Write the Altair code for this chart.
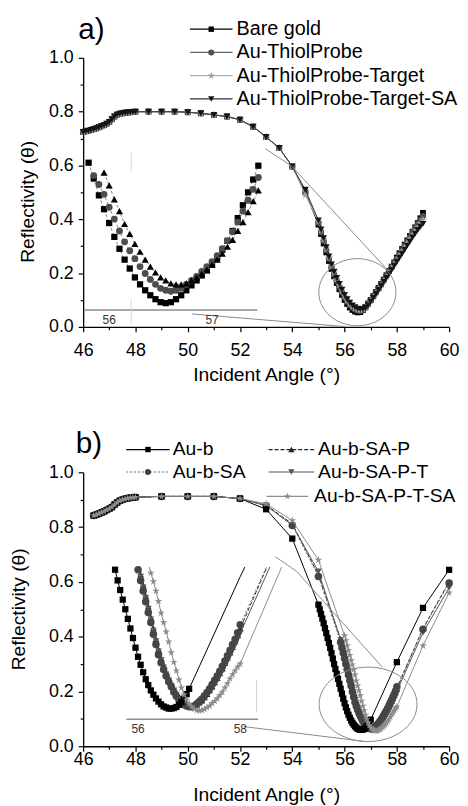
import altair as alt
import pandas as pd

FONT = "Liberation Sans"

# ======================= Panel a data =======================
A_TOP_ANGLE = [46.0, 46.1, 46.2, 46.3, 46.4, 46.5, 46.6, 46.7, 46.8, 46.9,
               47.0, 47.1, 47.2, 47.3, 47.4, 47.5, 47.6, 47.7, 47.8, 47.9,
               48.0, 48.5, 49.0, 49.5, 50.0, 50.5, 51.0, 51.5, 52.0, 52.5,
               53.0, 53.5, 54.0]
A_TOP_REFL = [0.724, 0.727, 0.729, 0.732, 0.735, 0.738, 0.742, 0.746, 0.750, 0.755,
              0.762, 0.772, 0.782, 0.789, 0.792, 0.794, 0.796, 0.797, 0.798, 0.799,
              0.800, 0.800, 0.800, 0.800, 0.798, 0.794, 0.788, 0.782, 0.770, 0.744,
              0.706, 0.665, 0.596]
A_TAIL_ANGLE = [54.5,
                55.0, 55.1, 55.2, 55.3, 55.4, 55.5, 55.6, 55.7, 55.8, 55.9,
                56.0, 56.1, 56.2, 56.3, 56.4, 56.5, 56.6, 56.7, 56.8, 56.9,
                57.0, 57.1, 57.2, 57.3, 57.4, 57.5, 57.6, 57.7, 57.8, 57.9,
                58.0, 58.1, 58.2, 58.3, 58.4, 58.5, 58.6, 58.7, 58.8, 58.9,
                59.0]
A_BARE_GOLD = [0.500,
               0.380, 0.345, 0.310, 0.277, 0.245, 0.215, 0.188, 0.163, 0.140, 0.119,
               0.100, 0.085, 0.072, 0.063, 0.057, 0.054, 0.055, 0.062, 0.074, 0.087,
               0.100, 0.115, 0.130, 0.145, 0.160, 0.176, 0.192, 0.208, 0.224, 0.240,
               0.258, 0.274, 0.290, 0.306, 0.322, 0.338, 0.354, 0.370, 0.386, 0.404,
               0.424]
A_THIOL_PROBE = [0.500,
                 0.388, 0.353, 0.320, 0.286, 0.253, 0.223, 0.196, 0.172, 0.150, 0.129,
                 0.110, 0.094, 0.081, 0.072, 0.065, 0.061, 0.060, 0.064, 0.072, 0.085,
                 0.099, 0.113, 0.128, 0.143, 0.158, 0.174, 0.190, 0.206, 0.222, 0.238,
                 0.254, 0.270, 0.286, 0.302, 0.318, 0.334, 0.350, 0.366, 0.382, 0.398,
                 0.412]
A_PROBE_TARGET = [0.490,
                  0.392, 0.358, 0.325, 0.291, 0.258, 0.228, 0.201, 0.177, 0.155, 0.134,
                  0.115, 0.099, 0.086, 0.076, 0.069, 0.064, 0.063, 0.065, 0.071, 0.082,
                  0.096, 0.110, 0.125, 0.140, 0.155, 0.170, 0.186, 0.202, 0.218, 0.234,
                  0.249, 0.265, 0.281, 0.297, 0.313, 0.328, 0.343, 0.357, 0.371, 0.385,
                  0.398]
A_PROBE_TARGET_SA = [0.510,
                     0.396, 0.362, 0.330, 0.296, 0.262, 0.232, 0.205, 0.182, 0.160, 0.138,
                     0.119, 0.103, 0.090, 0.080, 0.073, 0.068, 0.066, 0.066, 0.070, 0.080,
                     0.094, 0.108, 0.122, 0.137, 0.152, 0.167, 0.182, 0.197, 0.212, 0.227,
                     0.242, 0.257, 0.272, 0.287, 0.302, 0.317, 0.332, 0.346, 0.360, 0.372,
                     0.383]

# inset a (magnified minimum)
IA_SQ_ANGLE = [55.80, 55.85, 55.90, 55.95,
               56.00, 56.05, 56.10, 56.15, 56.20, 56.25, 56.30, 56.35, 56.40, 56.45,
               56.50, 56.55, 56.60, 56.65, 56.70, 56.75, 56.80, 56.85, 56.90, 56.95,
               57.00, 57.05, 57.10, 57.15, 57.20, 57.25, 57.30, 57.35, 57.40, 57.45]
IA_SQ = [0.199, 0.183, 0.166, 0.152,
         0.138, 0.124, 0.112, 0.101, 0.092, 0.083, 0.076, 0.070, 0.065, 0.061,
         0.058, 0.057, 0.058, 0.061, 0.065, 0.070, 0.075, 0.080, 0.085, 0.090,
         0.096, 0.103, 0.111, 0.120, 0.130, 0.143, 0.156, 0.169, 0.182, 0.196]
IA_CI_ANGLE = [55.85, 55.90, 55.95,
               56.00, 56.05, 56.10, 56.15, 56.20, 56.25, 56.30, 56.35, 56.40, 56.45,
               56.50, 56.55, 56.60, 56.65, 56.70, 56.75, 56.80, 56.85, 56.90, 56.95,
               57.00, 57.05, 57.10, 57.15, 57.20, 57.25, 57.30, 57.35, 57.40, 57.45]
IA_CI = [0.186, 0.177, 0.167,
         0.154, 0.142, 0.130, 0.119, 0.110, 0.102, 0.094, 0.087, 0.081, 0.076,
         0.072, 0.070, 0.069, 0.070, 0.072, 0.076, 0.080, 0.084, 0.089, 0.094,
         0.099, 0.105, 0.112, 0.120, 0.129, 0.139, 0.150, 0.161, 0.172, 0.184]
IA_TR_ANGLE = [55.95,
               56.00, 56.05, 56.10, 56.15, 56.20, 56.25, 56.30, 56.35, 56.40, 56.45,
               56.50, 56.55, 56.60, 56.65, 56.70, 56.75, 56.80, 56.85, 56.90, 56.95,
               57.00, 57.05, 57.10, 57.15, 57.20, 57.25, 57.30, 57.35, 57.40, 57.45]
IA_TR = [0.189,
         0.176, 0.162, 0.150, 0.137, 0.127, 0.117, 0.109, 0.101, 0.094, 0.088,
         0.083, 0.080, 0.077, 0.076, 0.076, 0.077, 0.080, 0.083, 0.087, 0.091,
         0.096, 0.101, 0.107, 0.114, 0.121, 0.130, 0.139, 0.149, 0.160, 0.171]
IA_AXIS_X = [55.76, 57.44]
IA_AXIS_Y = 0.05
IA_TICKS = [56, 57]
IA_FAINT_X = 56.215
IA_FAINT_Y = [[0.036, 0.061], [0.190, 0.209]]

# annotations a (main-plot coordinates)
A_ELLIPSE = [56.49, 0.129]
A_LINK_TOP_X = [52.97, 53.96, 57.63]
A_LINK_TOP_Y = [0.662, 0.599, 0.213]
A_LINK_BOT_X = [50.17, 56.04]
A_LINK_BOT_Y = [0.048, 0.001]

# ======================= Panel b data =======================
B_TOP_ANGLE = [46.4, 46.5, 46.6, 46.7, 46.8, 46.9, 47.0, 47.1, 47.2, 47.3,
               47.4, 47.5, 47.6, 47.7, 47.8, 47.9, 48.0, 49.0, 50.0, 51.0, 52.0]
B_TOP_REFL = [0.842, 0.845, 0.849, 0.853, 0.857, 0.862, 0.867, 0.873, 0.882, 0.890,
              0.896, 0.900, 0.903, 0.905, 0.907, 0.908, 0.909, 0.912, 0.912, 0.912, 0.904]

B_PRE_ANGLE_SQ = [53.0, 54.0]
B_PRE_ANGLE = [53.0, 54.0, 55.0]
B_AUB_PRE = [0.865, 0.758]
B_AUBSA_PRE = [0.878, 0.806, 0.620]
B_AUBSAP_PRE = [0.880, 0.812, 0.625]
B_AUBSAPT_PRE = [0.878, 0.808, 0.638]
B_AUBSAPTSA_PRE = [0.885, 0.824, 0.680]

B_SQ_ANGLE = [55.00, 55.05, 55.10, 55.15, 55.20, 55.25, 55.30, 55.35, 55.40, 55.45,
              55.50, 55.55, 55.60, 55.65, 55.70, 55.75, 55.80, 55.85, 55.90, 55.95,
              56.00, 56.05, 56.10, 56.15, 56.20, 56.25, 56.30, 56.35, 56.40, 56.45,
              56.50, 56.55, 56.60, 56.65, 56.70, 56.75, 56.80, 56.85, 56.90, 56.95,
              57.00]
B_AUB_DENSE = [0.517, 0.500, 0.483, 0.466, 0.449, 0.431, 0.413, 0.395, 0.377, 0.359,
               0.340, 0.320, 0.300, 0.282, 0.264, 0.246, 0.228, 0.210, 0.192, 0.174,
               0.157, 0.142, 0.128, 0.115, 0.104, 0.094, 0.086, 0.079, 0.073, 0.068,
               0.064, 0.062, 0.060, 0.060, 0.061, 0.063, 0.067, 0.072, 0.078, 0.087,
               0.097]
B_MID_ANGLE = [55.85, 55.90, 55.95,
               56.00, 56.05, 56.10, 56.15, 56.20, 56.25, 56.30, 56.35, 56.40, 56.45,
               56.50, 56.55, 56.60, 56.65, 56.70, 56.75, 56.80, 56.85, 56.90, 56.95,
               57.00, 57.05, 57.10, 57.15, 57.20, 57.25, 57.30, 57.35, 57.40, 57.45,
               57.50, 57.55, 57.60, 57.65, 57.70, 57.75, 57.80, 57.85, 57.90, 57.95,
               58.00]
B_AUBSA_DENSE = [0.380, 0.360, 0.340,
                 0.320, 0.300, 0.280, 0.260, 0.240, 0.221, 0.199, 0.180, 0.161, 0.146,
                 0.133, 0.121, 0.110, 0.101, 0.091, 0.083, 0.077, 0.071, 0.067, 0.065,
                 0.0635, 0.0635, 0.065, 0.069, 0.073, 0.078, 0.084, 0.090, 0.097, 0.105,
                 0.113, 0.121, 0.130, 0.139, 0.149, 0.159, 0.169, 0.180, 0.190, 0.202,
                 0.217]
B_AUBSAP_DENSE = [0.392, 0.372, 0.352,
                  0.331, 0.311, 0.291, 0.271, 0.251, 0.231, 0.210, 0.190, 0.171, 0.155,
                  0.141, 0.128, 0.116, 0.106, 0.096, 0.087, 0.080, 0.074, 0.069, 0.066,
                  0.064, 0.063, 0.064, 0.067, 0.071, 0.075, 0.081, 0.087, 0.094, 0.101,
                  0.109, 0.117, 0.126, 0.135, 0.145, 0.155, 0.165, 0.175, 0.186, 0.197,
                  0.210]
B_AUBSAPT_DENSE = [0.388, 0.368, 0.348,
                   0.327, 0.307, 0.287, 0.267, 0.247, 0.227, 0.206, 0.186, 0.167, 0.151,
                   0.137, 0.124, 0.113, 0.103, 0.094, 0.086, 0.079, 0.073, 0.068, 0.065,
                   0.063, 0.063, 0.064, 0.067, 0.070, 0.075, 0.080, 0.086, 0.092, 0.099,
                   0.106, 0.114, 0.122, 0.131, 0.140, 0.149, 0.159, 0.169, 0.179, 0.190,
                   0.201]
B_STAR_ANGLE = [56.00, 56.05, 56.10, 56.15, 56.20, 56.25, 56.30, 56.35, 56.40, 56.45,
                56.50, 56.55, 56.60, 56.65, 56.70, 56.75, 56.80, 56.85, 56.90, 56.95,
                57.00, 57.05, 57.10, 57.15, 57.20, 57.25, 57.30, 57.35, 57.40, 57.45,
                57.50, 57.55, 57.60, 57.65, 57.70, 57.75, 57.80, 57.85, 57.90, 57.95,
                58.00]
B_AUBSAPTSA_DENSE = [0.404, 0.386, 0.368, 0.350, 0.332, 0.314, 0.298, 0.280, 0.261, 0.239,
                     0.221, 0.204, 0.185, 0.165, 0.147, 0.131, 0.114, 0.099, 0.086, 0.076,
                     0.069, 0.064, 0.059, 0.057, 0.056, 0.057, 0.059, 0.062, 0.065, 0.070,
                     0.074, 0.079, 0.085, 0.091, 0.099, 0.107, 0.116, 0.124, 0.131, 0.138,
                     0.144]
B_POST_ANGLE_SQ = [58.0, 59.0, 60.0]
B_POST_ANGLE = [59.0, 60.0]
B_AUB_POST = [0.307, 0.505, 0.644]
B_AUBSA_POST = [0.427, 0.596]
B_AUBSAP_POST = [0.430, 0.600]
B_AUBSAPT_POST = [0.415, 0.578]
B_AUBSAPTSA_POST = [0.367, 0.560]

IB_TOP = 0.325
IB_AXIS_X = [55.77, 58.35]
IB_AXIS_Y = 0.04
IB_TICKS = [56, 58]
IB_FAINT_X = 58.32
IB_FAINT_Y = [0.054, 0.113]

B_ELLIPSE = [56.90, 0.153]
B_LINK_TOP_X = [53.35, 54.17, 57.44]
B_LINK_TOP_Y = [0.692, 0.638, 0.289]
B_LINK_BOT_X = [52.13, 56.73]
B_LINK_BOT_Y = [0.072, 0.018]

X_TICKS = [46, 47, 48, 49, 50, 51, 52, 53, 54, 55, 56, 57, 58, 59, 60]
Y_TICKS = [0.0, 0.1, 0.2, 0.3, 0.4, 0.5, 0.6, 0.7, 0.8, 0.9, 1.0]

# ======================= helpers =======================
STAR = ("M0,-1L0.224,-0.309L0.951,-0.309L0.363,0.118L0.588,0.809L0,0.382"
        "L-0.588,0.809L-0.363,0.118L-0.951,-0.309L-0.224,-0.309Z")
ELLIPSE_A = "M-1,0A1,0.87,0,1,1,1,0A1,0.87,0,1,1,-1,0Z"
ELLIPSE_B = "M-1,0A1,0.76,0,1,1,1,0A1,0.76,0,1,1,-1,0Z"


def xy(xs, ys):
    assert len(xs) == len(ys), (len(xs), len(ys))
    return pd.DataFrame({"x": list(xs), "y": list(ys)})


def line_layer(df, X, Y, color, width=1.0, dash=None, detail=False):
    kw = dict(color=color, strokeWidth=width)
    if dash:
        kw["strokeDash"] = dash
    enc = dict(x=X, y=Y)
    if detail:
        enc["detail"] = "seg:N"
        enc["order"] = "i:Q"
    return alt.Chart(df).mark_line(**kw).encode(**enc)


def point_layer(df, X, Y, shape, color, size):
    return alt.Chart(df).mark_point(shape=shape, size=size, filled=True,
                                    color=color, opacity=1).encode(x=X, y=Y)


def polylines(lines):
    rows = []
    for s, (xs, ys) in enumerate(lines):
        for i, (a, b) in enumerate(zip(xs, ys)):
            rows.append({"x": a, "y": b, "seg": s, "i": i})
    return pd.DataFrame(rows)


def clip_top(xs, ys, top):
    pieces, cur = [], []
    for i in range(len(xs)):
        x, y = xs[i], ys[i]
        if y <= top:
            if not cur and i > 0 and ys[i - 1] > top:
                x0, y0 = xs[i - 1], ys[i - 1]
                t = (top - y0) / (y - y0)
                cur.append((x0 + t * (x - x0), top))
            cur.append((x, y))
        elif cur:
            x0, y0 = xs[i - 1], ys[i - 1]
            t = (top - y0) / (y - y0)
            cur.append((x0 + t * (x - x0), top))
            pieces.append(cur)
            cur = []
    if cur:
        pieces.append(cur)
    return [([p[0] for p in pc], [p[1] for p in pc]) for pc in pieces]


def legend_layers(items, fs):
    out = []
    for it in items:
        d = pd.DataFrame({"t": [it["label"]]})
        kw = dict(color=it["line"], strokeWidth=1.2)
        if it.get("dash"):
            kw["strokeDash"] = it["dash"]
        out.append(alt.Chart(d).mark_rule(**kw).encode(
            x=alt.value(it["x0"]), x2=alt.value(it["x1"]), y=alt.value(it["y"])))
        out.append(alt.Chart(d).mark_point(shape=it["shape"], size=it["size"], filled=True,
                                           color=it["color"], opacity=1).encode(
            x=alt.value(it["xm"]), y=alt.value(it["y"])))
        out.append(alt.Chart(d).mark_text(align="left", baseline="middle", fontSize=fs,
                                          font=FONT, color="black").encode(
            x=alt.value(it["xt"]), y=alt.value(it["y"]), text="t:N"))
    return out


def panel_label(txt, x, y):
    d = pd.DataFrame({"t": [txt]})
    return alt.Chart(d).mark_text(align="left", baseline="alphabetic", fontSize=30,
                                  font=FONT, color="black").encode(
        x=alt.value(x), y=alt.value(y), text="t:N")


def x_axis(label_pad):
    return alt.Axis(title="Incident Angle (°)", values=X_TICKS,
                    labelExpr="datum.value % 2 == 0 ? datum.label : ''",
                    tickSize={"condition": {"test": "datum.value % 2 == 0", "value": 5}, "value": 3},
                    labelPadding=label_pad, labelFlush=False, grid=False,
                    titleX=185, titleY=39.5, titleBaseline="top", titleAlign="center")


def y_axis(title_x, title_y):
    return alt.Axis(title="Reflectivity (θ)", values=Y_TICKS, format=".1f",
                    labelExpr="round(datum.value*10) % 2 == 0 ? datum.label : ''",
                    tickSize={"condition": {"test": "round(datum.value*10) % 2 == 0", "value": 5}, "value": 3},
                    labelPadding=5, labelFlush=False, grid=False,
                    titleX=title_x, titleY=title_y, titleBaseline="bottom",
                    titleAlign="center", titleAngle=270)


W = 370
HA, HB = 272, 277

# ======================= Panel a =======================
XA = alt.X("x:Q", scale=alt.Scale(domain=[46, 60], nice=False, zero=False), axis=x_axis(10))
YA = alt.Y("y:Q", scale=alt.Scale(domain=[0, 1], nice=False, zero=False), axis=y_axis(-46.7, 145))

a_series = [
    (A_BARE_GOLD, dict(shape="square", color="#000000", line="#000000", size=34)),
    (A_THIOL_PROBE, dict(shape="circle", color="#505050", line="#666666", size=40)),
    (A_PROBE_TARGET, dict(shape=STAR, color="#a0a0a0", line="#b0b0b0", size=70)),
    (A_PROBE_TARGET_SA, dict(shape="triangle-down", color="#151515", line="#333333", size=48)),
]
main_a = []
for vals, st in a_series:
    df = xy(A_TOP_ANGLE + A_TAIL_ANGLE, A_TOP_REFL + vals)
    main_a.append(line_layer(df, XA, YA, st["line"], 1.0))
    main_a.append(point_layer(df, XA, YA, st["shape"], st["color"], st["size"]))

main_a.append(alt.Chart(xy([A_ELLIPSE[0]], [A_ELLIPSE[1]])).mark_point(
    shape=ELLIPSE_A, size=6084, filled=False, color="#8a8a8a", strokeWidth=1, opacity=1
).encode(x=XA, y=YA))
main_a.append(line_layer(polylines([(A_LINK_TOP_X, A_LINK_TOP_Y), (A_LINK_BOT_X, A_LINK_BOT_Y)]),
                         XA, YA, "#8a8a8a", 1.0, detail=True))

leg_a = [
    dict(label="Bare gold", shape="square", color="#000000", line="#000000", size=30,
         x0=108, x1=151, xm=129.5, xt=155, y=-29),
    dict(label="Au-ThiolProbe", shape="circle", color="#505050", line="#666666", size=38,
         x0=108, x1=151, xm=129.5, xt=155, y=-5.5),
    dict(label="Au-ThiolProbe-Target", shape=STAR, color="#a0a0a0", line="#b0b0b0", size=60,
         x0=108, x1=151, xm=129.5, xt=155, y=18),
    dict(label="Au-ThiolProbe-Target-SA", shape="triangle-down", color="#151515", line="#333333",
         size=42, x0=108, x1=151, xm=129.5, xt=155, y=41.5),
]
main_a += legend_layers(leg_a, 20)
main_a.append(panel_label("a)", -5, -19))

XIA = alt.X("x:Q", scale=alt.Scale(domain=[56, 57], range=[26.3, 130.3], nice=False, zero=False), axis=None)
YIA = alt.Y("y:Q", scale=alt.Scale(domain=[0.05, 0.20], range=[255, 105], nice=False, zero=False), axis=None)

inset_a = []
inset_a.append(alt.Chart(pd.DataFrame({"x": [IA_AXIS_X[0]], "x2": [IA_AXIS_X[1]], "y": [IA_AXIS_Y]}))
               .mark_rule(color="#8c8c8c", strokeWidth=1.5).encode(x=XIA, x2="x2:Q", y=YIA))
inset_a.append(alt.Chart(pd.DataFrame({"x": [IA_FAINT_X, IA_FAINT_X],
                                       "y": [IA_FAINT_Y[0][0], IA_FAINT_Y[1][0]],
                                       "y2": [IA_FAINT_Y[0][1], IA_FAINT_Y[1][1]]}))
               .mark_rule(color="#d8d8d8", strokeWidth=1).encode(x=XIA, y=YIA, y2="y2:Q"))
inset_a.append(alt.Chart(pd.DataFrame({"x": IA_TICKS, "t": [str(v) for v in IA_TICKS]}))
               .mark_text(fontSize=12, font=FONT, color="#333333", baseline="middle")
               .encode(x=XIA, y=alt.value(265), text="t:N"))
for xs, ys, shape, col, size in [
    (IA_SQ_ANGLE, IA_SQ, "square", "#000000", 40),
    (IA_CI_ANGLE, IA_CI, "circle", "#4d4d4d", 48),
    (IA_TR_ANGLE, IA_TR, "triangle-up", "#000000", 52),
]:
    df = xy(xs, ys)
    inset_a.append(line_layer(df, XIA, YIA, "#666666", 0.8, dash=[3, 2]))
    inset_a.append(point_layer(df, XIA, YIA, shape, col, size))

panel_a = alt.layer(alt.layer(*main_a), alt.layer(*inset_a)).resolve_scale(
    x="independent", y="independent").properties(width=W, height=HA)

# ======================= Panel b =======================
XB = alt.X("x:Q", scale=alt.Scale(domain=[46, 60], nice=False, zero=False), axis=x_axis(-1))
YB = alt.Y("y:Q", scale=alt.Scale(domain=[0, 1], nice=False, zero=False), axis=y_axis(-55, 138))

b_series = [
    dict(pre_x=B_PRE_ANGLE, pre=B_AUBSAP_PRE, dx=B_MID_ANGLE, dense=B_AUBSAP_DENSE,
         post_x=B_POST_ANGLE, post=B_AUBSAP_POST,
         shape="triangle-up", color="#222222", line="#222222", dash=[4, 2], size=46),
    dict(pre_x=B_PRE_ANGLE, pre=B_AUBSAPT_PRE, dx=B_MID_ANGLE, dense=B_AUBSAPT_DENSE,
         post_x=B_POST_ANGLE, post=B_AUBSAPT_POST,
         shape="triangle-down", color="#555555", line="#555555", dash=None, size=46),
    dict(pre_x=B_PRE_ANGLE, pre=B_AUBSA_PRE, dx=B_MID_ANGLE, dense=B_AUBSA_DENSE,
         post_x=B_POST_ANGLE, post=B_AUBSA_POST,
         shape="circle", color="#454545", line="#6a6a6a", dash=[2, 2], size=58),
    dict(pre_x=B_PRE_ANGLE_SQ, pre=B_AUB_PRE, dx=B_SQ_ANGLE, dense=B_AUB_DENSE,
         post_x=B_POST_ANGLE_SQ, post=B_AUB_POST,
         shape="square", color="#000000", line="#000000", dash=None, size=40),
    dict(pre_x=B_PRE_ANGLE, pre=B_AUBSAPTSA_PRE, dx=B_STAR_ANGLE, dense=B_AUBSAPTSA_DENSE,
         post_x=B_POST_ANGLE, post=B_AUBSAPTSA_POST,
         shape=STAR, color="#8c8c8c", line="#8c8c8c", dash=None, size=64),
]

XIB = alt.X("x:Q", scale=alt.Scale(domain=[56, 58], range=[55.5, 158.8], nice=False, zero=False), axis=None)
YIB = alt.Y("y:Q", scale=alt.Scale(domain=[0.04, IB_TOP], range=[249.7, 95.8], nice=False, zero=False), axis=None)

main_b, inset_b = [], []
inset_b.append(alt.Chart(pd.DataFrame({"x": [IB_AXIS_X[0]], "x2": [IB_AXIS_X[1]], "y": [IB_AXIS_Y]}))
               .mark_rule(color="#8c8c8c", strokeWidth=1.5).encode(x=XIB, x2="x2:Q", y=YIB))
inset_b.append(alt.Chart(pd.DataFrame({"x": [IB_FAINT_X], "y": [IB_FAINT_Y[0]], "y2": [IB_FAINT_Y[1]]}))
               .mark_rule(color="#d0d0d0", strokeWidth=1).encode(x=XIB, y=YIB, y2="y2:Q"))
inset_b.append(alt.Chart(pd.DataFrame({"x": IB_TICKS, "t": [str(v) for v in IB_TICKS]}))
               .mark_text(fontSize=12, font=FONT, color="#333333", baseline="middle")
               .encode(x=XIB, y=alt.value(260), text="t:N"))

for s in b_series:
    xs = B_TOP_ANGLE + s["pre_x"] + s["dx"] + s["post_x"]
    ys = B_TOP_REFL + s["pre"] + s["dense"] + s["post"]
    df = xy(xs, ys)
    main_b.append(line_layer(df, XB, YB, s["line"], 1.0, dash=s["dash"]))
    main_b.append(point_layer(df, XB, YB, s["shape"], s["color"], s["size"]))
    # inset: same measurements, magnified
    inset_b.append(line_layer(polylines(clip_top(xs, ys, IB_TOP)), XIB, YIB, s["line"], 1.0,
                              dash=s["dash"], detail=True))
    dd = xy(s["dx"], s["dense"])
    dd = dd[dd["y"] <= IB_TOP]
    inset_b.append(point_layer(dd, XIB, YIB, s["shape"], s["color"], s["size"]))

main_b.append(alt.Chart(xy([B_ELLIPSE[0]], [B_ELLIPSE[1]])).mark_point(
    shape=ELLIPSE_B, size=9801, filled=False, color="#8a8a8a", strokeWidth=1, opacity=1
).encode(x=XB, y=YB))
main_b.append(line_layer(polylines([(B_LINK_TOP_X, B_LINK_TOP_Y), (B_LINK_BOT_X, B_LINK_BOT_Y)]),
                         XB, YB, "#8a8a8a", 1.0, detail=True))

leg_b = [
    dict(label="Au-b", shape="square", color="#000000", line="#000000", size=30,
         x0=43.5, x1=87.5, xm=65.5, xt=90.5, y=-23),
    dict(label="Au-b-SA", shape="circle", color="#454545", line="#6a6a6a", dash=[2, 2], size=38,
         x0=43.5, x1=87.5, xm=65.5, xt=90.5, y=-0.3),
    dict(label="Au-b-SA-P", shape="triangle-up", color="#222222", line="#222222", dash=[4, 2], size=40,
         x0=187.5, x1=233.5, xm=210.5, xt=237.5, y=-23),
    dict(label="Au-b-SA-P-T", shape="triangle-down", color="#555555", line="#555555", size=40,
         x0=187.5, x1=233.5, xm=210.5, xt=237.5, y=-0.3),
    dict(label="Au-b-SA-P-T-SA", shape=STAR, color="#8c8c8c", line="#8c8c8c", size=56,
         x0=185.5, x1=227.5, xm=206.5, xt=233.5, y=24.3),
]
main_b += legend_layers(leg_b, 19.5)
main_b.append(panel_label("b)", -7.5, -19))

panel_b = alt.layer(alt.layer(*main_b), alt.layer(*inset_b)).resolve_scale(
    x="independent", y="independent").properties(width=W, height=HB)

chart = alt.vconcat(panel_a, panel_b, spacing=46).properties(
    padding={"left": 1, "top": 3, "right": 0, "bottom": 0}
).configure_view(stroke=None).configure_axis(
    labelFont=FONT, titleFont=FONT, labelFontSize=18, titleFontSize=19.5,
    titleFontWeight="normal", labelColor="black", titleColor="black",
    domainColor="black", tickColor="black", domainWidth=1.3, tickWidth=1.2
)

chart.save("out.html", embed_options={"renderer": "svg", "actions": False})
